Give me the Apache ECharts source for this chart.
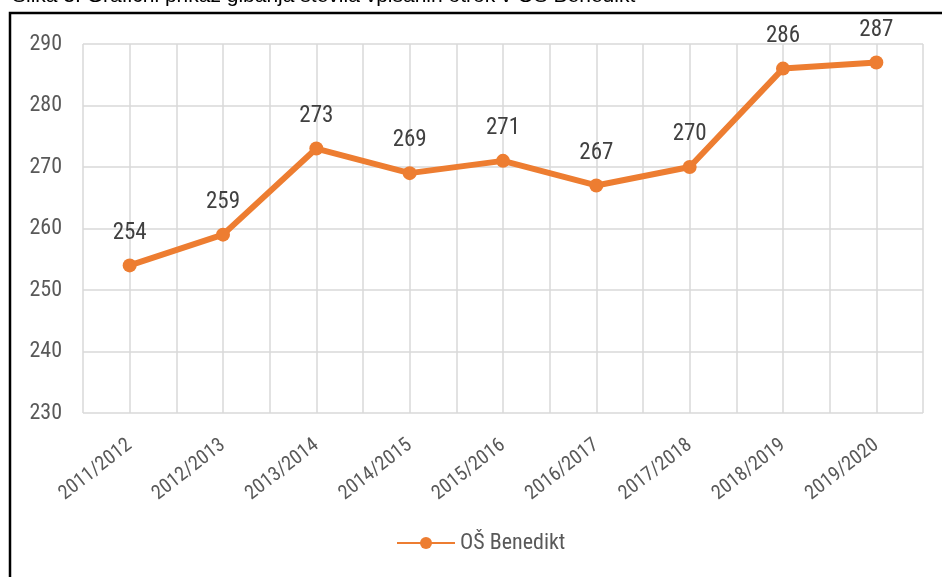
<!DOCTYPE html>
<html>
<head>
<meta charset="utf-8">
<title>OŠ Benedikt</title>
<script src="https://cdn.jsdelivr.net/npm/echarts@6/dist/echarts.min.js"></script>
<style>
  html, body { margin: 0; padding: 0; background: #fff; }
  #main { width: 942px; height: 577px; }
</style>
</head>
<body>
<div id="main"></div>
<script type="text/javascript">
  // šolska leta in število vpisanih otrok
  var years = ['2011/2012', '2012/2013', '2013/2014', '2014/2015', '2015/2016',
               '2016/2017', '2017/2018', '2018/2019', '2019/2020'];
  var pupils = [254, 259, 273, 269, 271, 267, 270, 286, 287];
  var seriesName = 'OŠ Benedikt';
  var caption = 'Slika 3: Grafični prikaz gibanja števila vpisanih otrok v OŠ Benedikt';

  var narrow = "'Liberation Sans Narrow', 'Arial Narrow', 'Roboto Condensed', sans-serif";

  // pomožna os: mreža tudi na sredini vsake kategorije
  var halfSteps = [];
  for (var i = 0; i < years.length; i++) {
    halfSteps.push(years[i] + '-a');
    halfSteps.push(years[i] + '-b');
  }

  var chart = echarts.init(document.getElementById('main'));

  var option = {
    animation: false,
    backgroundColor: '#ffffff',
    color: ['#ED7D31'],
    graphic: [
      {
        type: 'text',
        left: 12,
        top: -14,
        style: {
          text: caption,
          font: "21px 'Liberation Sans', Arial, sans-serif",
          fill: '#000'
        }
      },
      {
        type: 'rect',
        shape: { x: 10, y: 13, width: 1000, height: 600 },
        style: { fill: 'none', stroke: '#000', lineWidth: 2.5 }
      }
    ],
    grid: {
      left: 83,
      right: 19,
      top: 44,
      bottom: 164
    },
    legend: {
      bottom: 18,
      left: 391,
      itemWidth: 58,
      itemHeight: 15,
      itemGap: 4,
      textStyle: { fontFamily: narrow, fontSize: 22, color: '#595959' },
      data: [seriesName]
    },
    xAxis: [
      {
        type: 'category',
        data: years,
        boundaryGap: true,
        axisLine: { show: false },
        axisTick: { show: false },
        splitLine: { show: false },
        axisLabel: {
          rotate: 38,
          margin: 30,
          interval: 0,
          fontFamily: narrow,
          fontSize: 20,
          color: '#595959'
        }
      },
      {
        type: 'category',
        data: halfSteps,
        boundaryGap: true,
        position: 'bottom',
        axisLine: { show: false },
        axisTick: { show: false },
        axisLabel: { show: false },
        splitLine: { show: true, interval: 0, lineStyle: { color: '#d9d9d9', width: 1.5 } }
      }
    ],
    yAxis: {
      type: 'value',
      min: 230,
      max: 290,
      interval: 10,
      axisLine: { show: false },
      axisTick: { show: false },
      axisLabel: {
        margin: 21,
        fontFamily: narrow,
        fontSize: 22,
        color: '#595959'
      },
      splitLine: { lineStyle: { color: '#d9d9d9', width: 1.5 } }
    },
    series: [
      {
        name: seriesName,
        type: 'line',
        xAxisIndex: 0,
        data: pupils,
        symbol: 'circle',
        symbolSize: 14,
        lineStyle: { width: 6, color: '#ED7D31' },
        itemStyle: { color: '#ED7D31' },
        label: {
          show: true,
          position: 'top',
          distance: 14,
          fontFamily: narrow,
          fontSize: 23,
          color: '#404040'
        }
      }
    ]
  };

  chart.setOption(option);
</script>
</body>
</html>
